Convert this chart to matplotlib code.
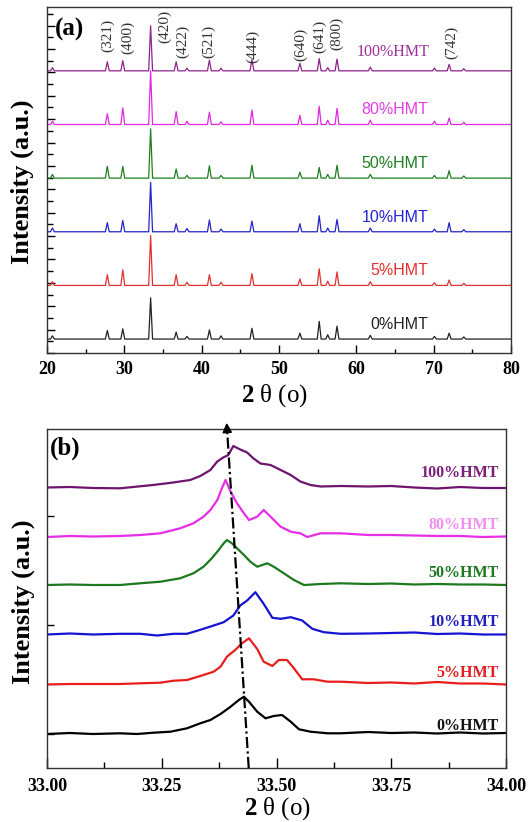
import numpy as np
import matplotlib
matplotlib.use("Agg")
import matplotlib.pyplot as plt
from matplotlib.ticker import MultipleLocator, FixedLocator

plt.rcParams['font.family'] = ['Liberation Serif', 'DejaVu Serif']
plt.rcParams['mathtext.fontset'] = 'custom'
plt.rcParams['mathtext.bf'] = 'Liberation Serif:bold'
plt.rcParams['mathtext.rm'] = 'Liberation Serif'

# ---------------- panel (a) data ----------------
samples = ['0%HMT', '5%HMT', '10%HMT', '50%HMT', '80%HMT', '100%HMT']
peak_pos = [20.7, 27.8, 29.8, 33.4, 36.7, 38.1, 41.0, 42.5, 46.5, 52.7,
            55.2, 56.3, 57.5, 61.8, 70.1, 72.0, 73.9]
peaks_0 = [0.06, 0.16, 0.19, 0.77, 0.13, 0.05, 0.17, 0.06, 0.20, 0.11, 0.33, 0.08, 0.24, 0.07, 0.05, 0.11, 0.04]
peaks_5 = [0.07, 0.20, 0.29, 0.93, 0.20, 0.06, 0.20, 0.06, 0.22, 0.12, 0.31, 0.08, 0.25, 0.07, 0.05, 0.10, 0.04]
peaks_10 = [0.07, 0.17, 0.21, 0.92, 0.15, 0.06, 0.22, 0.05, 0.20, 0.15, 0.30, 0.07, 0.23, 0.07, 0.05, 0.17, 0.04]
peaks_50 = [0.07, 0.22, 0.22, 0.92, 0.17, 0.05, 0.23, 0.05, 0.24, 0.11, 0.20, 0.07, 0.24, 0.07, 0.05, 0.14, 0.04]
peaks_80 = [0.06, 0.20, 0.31, 1.00, 0.24, 0.06, 0.23, 0.05, 0.27, 0.17, 0.34, 0.08, 0.30, 0.08, 0.06, 0.12, 0.04]
peaks_100 = [0.06, 0.17, 0.19, 0.84, 0.17, 0.05, 0.20, 0.05, 0.21, 0.14, 0.23, 0.06, 0.22, 0.07, 0.05, 0.12, 0.04]
peaks_all = [peaks_0, peaks_5, peaks_10, peaks_50, peaks_80, peaks_100]

hkl_labels = ['(321)', '(400)', '(420)', '(422)', '(521)', '(444)', '(640)', '(641)', '(800)', '(742)']
hkl_x = [27.89, 30.47, 35.27, 37.6, 40.96, 46.65, 52.85, 55.3, 57.5, 72.37]
hkl_y = [5.66, 5.63, 5.82, 5.54, 5.55, 5.45, 5.50, 5.65, 5.70, 5.53]

# ---------------- panel (b) data ----------------
b_offsets = [34, 83.5, 133.5, 183, 232, 280.5]
bx_0 = [33.00, 33.05, 33.10, 33.159, 33.196, 33.232, 33.269, 33.305, 33.334, 33.356, 33.378, 33.40, 33.418, 33.429,
        33.44, 33.458, 33.476, 33.494, 33.512, 33.531, 33.549, 33.574, 33.611, 33.64, 33.70, 33.75, 33.80, 33.85,
        33.90, 33.95, 34.00]
by_0 = [0, 1, 0, 0.7, 0, 1.3, 2.3, 5.7, 10.7, 14, 20, 27.3, 34, 37.3, 32.3, 22.3, 15.7, 18, 19, 12.3, 4.7, 2.3,
        0.7, 0.7, 2, 1, 1.5, 0.5, 1.5, 0.5, 1]
bx_5 = [33.00, 33.05, 33.10, 33.159, 33.203, 33.247, 33.276, 33.305, 33.334, 33.363, 33.378, 33.392, 33.41, 33.425,
        33.44, 33.458, 33.472, 33.491, 33.505, 33.523, 33.538, 33.556, 33.581, 33.611, 33.64, 33.70, 33.75, 33.80,
        33.85, 33.90, 33.95, 34.00]
by_5 = [0, 0.5, 0.5, 0.5, 1.2, 1.8, 3.8, 4.5, 8.5, 12.8, 17.8, 27.8, 34.5, 41.2, 46.2, 35.5, 22.8, 18.5, 24.5,
        24.5, 16.2, 5.2, 5.2, 2.8, 2.8, 1.5, 2, 1, 2.5, 1, 1, 0]
bx_10 = [33.00, 33.05, 33.10, 33.159, 33.203, 33.24, 33.276, 33.305, 33.334, 33.363, 33.385, 33.406, 33.421, 33.436,
         33.454, 33.472, 33.491, 33.509, 33.531, 33.556, 33.578, 33.603, 33.64, 33.70, 33.75, 33.80, 33.85, 33.90,
         33.95, 34.00]
by_10 = [0, 1, 0, 0.7, 0.7, -1, 0.7, 0.7, 4.7, 9, 12.3, 19, 29, 34, 42.3, 30.7, 16.7, 15.7, 17.3, 14, 5.7, 2.3,
         0.7, 1, 1.5, 2, 0.5, 1, 0, 0]
bx_50 = [33.00, 33.05, 33.10, 33.159, 33.203, 33.247, 33.29, 33.319, 33.341, 33.359, 33.374, 33.385, 33.392, 33.403,
         33.414, 33.429, 33.443, 33.458, 33.48, 33.494, 33.516, 33.538, 33.56, 33.596, 33.64, 33.70, 33.75, 33.80,
         33.85, 33.90, 33.95, 34.00]
by_50 = [0, 0.5, 0, 0, 1.7, 3.3, 6.7, 11.7, 18.3, 26.7, 35, 41.7, 45, 41.7, 36.7, 30, 23.3, 18.3, 21.7, 18.3, 11.7,
         5, 0, 1, 1.7, 1, 1.5, 0.5, 1, 0.5, 0.5, 0]
bx_80 = [33.00, 33.05, 33.10, 33.159, 33.203, 33.247, 33.29, 33.319, 33.341, 33.356, 33.371, 33.381, 33.389, 33.40,
         33.414, 33.429, 33.44, 33.458, 33.472, 33.487, 33.509, 33.531, 33.552, 33.567, 33.596, 33.64, 33.70, 33.75,
         33.80, 33.85, 33.90, 33.95, 34.00]
by_80 = [-1, 0, -0.5, 0, 1, 2.7, 7.7, 12.7, 19.3, 26, 36, 47.7, 56, 44.3, 32.7, 22.7, 16, 19.3, 26, 19.3, 9.3, 4.3,
         2.7, -1, 2.7, 2.7, 1, 1, 0.5, 0, 0, -1, -0.5]
bx_100 = [33.00, 33.05, 33.10, 33.159, 33.231, 33.275, 33.312, 33.334, 33.356, 33.371, 33.384, 33.395, 33.406, 33.421,
          33.436, 33.45, 33.465, 33.487, 33.509, 33.531, 33.552, 33.574, 33.596, 33.64, 33.70, 33.75, 33.80, 33.85,
          33.90, 33.95, 34.00]
by_100 = [0, 0.5, -0.5, -0.8, 2.5, 5, 7.5, 11.5, 17.5, 26, 30, 32.5, 41.5, 38, 35, 29, 24, 22.5, 17.5, 12.5, 6, 2.5,
          1, 1.5, 1, 1.5, 0, -1, 0.5, -0.5, -0.5]
bx_all = [bx_0, bx_5, bx_10, bx_50, bx_80, bx_100]
by_all = [by_0, by_5, by_10, by_50, by_80, by_100]

shift_x = [33.4395, 33.391]

# ---------------- styles ----------------
top_line_colors = ['#222222', '#E03030', '#2424C8', '#1F7F1F', '#E028E0', '#8E248E']
top_text_colors = ['#222222', '#E03030', '#2424D0', '#1F7F1F', '#E040E0', '#9B309B']
bot_line_colors = ['#000000', '#E81E1E', '#1414D2', '#1E781E', '#E62EE6', '#6E146E']
bot_text_colors = ['#111111', '#E02020', '#2020C0', '#1F7A1F', '#F090F0', '#7A1F7A']

fig = plt.figure(figsize=(5.28, 8.22), dpi=100)
W, H = 528, 822
axA = fig.add_axes([47 / W, (H - 353) / H, (511 - 47) / W, (353 - 7) / H])
axB = fig.add_axes([47 / W, (H - 768) / H, (506 - 47) / W, (768 - 429) / H])

tickfont = dict(family='Liberation Serif', weight='bold', size=13)

# ---- panel (a)
for i, (name, pk) in enumerate(zip(samples, peaks_all)):
    xs = [20.0]
    ys = [0.0]
    for p, h in zip(peak_pos, pk):
        xs += [p - 0.25, p, p + 0.25]
        ys += [0.0, h, 0.0]
    xs.append(80.0)
    ys.append(0.0)
    axA.plot(xs, np.array(ys) + i, color=top_line_colors[i], lw=0.9)
    if name == '100%HMT':
        axA.text(69.5, i + 0.36, name, color=top_text_colors[i], ha='right', va='center',
                 family='Liberation Serif', size=11.5)
    else:
        axA.text(69.3, i + 0.27, name, color=top_text_colors[i], ha='right', va='center',
                 family='Liberation Sans', size=11.5)

for lab, x, y in zip(hkl_labels, hkl_x, hkl_y):
    axA.text(x, y, lab, rotation=90, ha='center', va='center', size=11, color='#333333',
             family='Liberation Serif')

axA.set_xlim(20, 80)
axA.set_ylim(-0.26, 6.19)
axA.xaxis.set_major_locator(MultipleLocator(10))
axA.xaxis.set_minor_locator(MultipleLocator(5))
ytk = -0.26 + 0.218 * np.arange(0, 30)
axA.yaxis.set_major_locator(FixedLocator(ytk[::2]))
axA.yaxis.set_minor_locator(FixedLocator(ytk[1::2]))
axA.set_yticklabels([])
axA.tick_params(axis='both', which='both', direction='in', top=False, right=False)
axA.tick_params(axis='x', which='major', length=6, width=1, pad=6)
axA.tick_params(axis='x', which='minor', length=3, width=1)
axA.tick_params(axis='y', which='major', length=6, width=1)
axA.tick_params(axis='y', which='minor', length=4, width=1)
for lab in axA.get_xticklabels():
    lab.set_fontproperties(matplotlib.font_manager.FontProperties(**tickfont))
axA.text(0.017, 0.934, '(a)', transform=axA.transAxes, ha='left', va='center',
         family='Liberation Serif', weight='bold', size=18)
axA.text(-0.054, 0.494, 'Intensity (a.u.)', transform=axA.transAxes, rotation=90,
         ha='center', va='center', family='Liberation Serif', weight='bold', size=19)
axA.text(0.491, -0.124, r'$\mathbf{2}$ θ (o)', transform=axA.transAxes, ha='center', va='center',
         family='Liberation Serif', size=18)

# ---- panel (b)
label_y = [42, 95, 146, 195, 243, 295]
for i, name in enumerate(samples):
    axB.plot(bx_all[i], np.array(by_all[i]) + b_offsets[i], color=bot_line_colors[i], lw=1.6)
    axB.text(33.985, label_y[i], name, color=bot_text_colors[i], ha='right', va='center',
             family='Liberation Serif', weight='bold', size=11.5)

axB.set_xlim(33.0, 34.0)
axB.set_ylim(0, 339)
# dash-dot shift guide with arrow head
axB.plot([shift_x[0], shift_x[1] + (shift_x[0] - shift_x[1]) * 12 / 348], [0, 336], color='k', lw=1.6,
         dashes=(5, 1.5, 1, 1.5), clip_on=False, zorder=5)
axB.annotate('', xy=(shift_x[1], 348), xytext=(shift_x[1] + (shift_x[0] - shift_x[1]) * 14 / 348, 334),
             arrowprops=dict(arrowstyle='-|>', color='k', lw=1.2, mutation_scale=14),
             annotation_clip=False, zorder=6)

axB.xaxis.set_major_locator(MultipleLocator(0.25))
axB.xaxis.set_minor_locator(MultipleLocator(0.125))
axB.xaxis.set_major_formatter(matplotlib.ticker.FormatStrFormatter('%.2f'))
axB.yaxis.set_major_locator(FixedLocator([34, 143, 252]))
axB.set_yticklabels([])
axB.tick_params(axis='both', which='both', direction='in', top=False, right=False)
axB.tick_params(axis='x', which='major', length=7, width=1, pad=7)
axB.tick_params(axis='x', which='minor', length=4, width=1)
axB.tick_params(axis='y', which='major', length=5, width=1)
for lab in axB.get_xticklabels():
    lab.set_fontproperties(matplotlib.font_manager.FontProperties(**tickfont))
axB.text(0.007, 0.944, '(b)', transform=axB.transAxes, ha='left', va='center',
         family='Liberation Serif', weight='bold', size=18)
axB.text(-0.052, 0.49, 'Intensity (a.u.)', transform=axB.transAxes, rotation=90,
         ha='center', va='center', family='Liberation Serif', weight='bold', size=19)
axB.text(0.503, -0.121, r'$\mathbf{2}$ θ (o)', transform=axB.transAxes, ha='center', va='center',
         family='Liberation Serif', size=18)

for ax in (axA, axB):
    for s in ax.spines.values():
        s.set_linewidth(1.0)
        s.set_color('#333333')

fig.savefig('out.png', dpi=100)
